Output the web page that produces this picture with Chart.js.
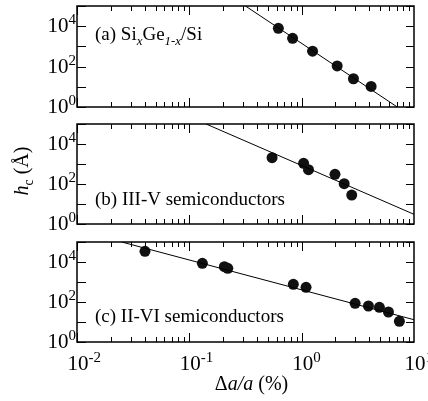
<!DOCTYPE html>
<html>
<head>
<meta charset="utf-8">
<script src="https://cdn.jsdelivr.net/npm/chart.js@4.4.1/dist/chart.umd.min.js"></script>
<style>
body { margin: 0; background: #fff; }
#wrap { position: relative; width: 428px; height: 401px; }
.panel { position: absolute; left: 0; width: 428px; }
</style>
</head>
<body>
<div id="wrap">
  <div class="panel" style="top:0;height:115px"><canvas id="chartA"></canvas></div>
  <div class="panel" style="top:115px;height:115px"><canvas id="chartB"></canvas></div>
  <div class="panel" style="top:230px;height:171px"><canvas id="chartC"></canvas></div>
</div>
<script>
// axis ticks (decades) and which ones carry a label
const xTicks = [0.01, 0.1, 1, 10];
const xTickExp = ['-2', '-1', '0', '1'];
const yTicks = [1, 10, 100, 1000, 10000, 100000];
const yLabelTicks = [1, 100, 10000];
const yLabelExp = ['0', '2', '4'];

// (a) SiGe/Si
const sigeX = [0.62, 0.83, 1.25, 2.07, 2.89, 4.15];
const sigeY = [7900, 2500, 580, 108, 25, 10.4];
const sigeFitX = [0.316, 7.1];
const sigeFitY = [100000, 1];

// (b) III-V
const iiivX = [0.545, 1.04, 1.15, 1.98, 2.39, 2.79];
const iiivY = [2070, 1080, 520, 305, 104, 28];
const iiivFitX = [0.141, 10];
const iiivFitY = [100000, 3.05];

// (c) II-VI
const iiviX = [0.0403, 0.1306, 0.205, 0.22, 0.843, 1.094, 2.99, 3.93, 4.92, 5.92, 7.41];
const iiviY = [34300, 8610, 5820, 4840, 767, 543, 86, 63, 54, 31.6, 10.8];
const iiviFitX = [0.025, 10];
const iiviFitY = [100000, 13];

const FONT = '"Liberation Serif", "Times New Roman", serif';

function font(size, italic) {
    return (italic ? 'italic ' : '') + size + 'px ' + FONT;
}

// draws a list of text pieces one after the other, returns total width
function drawRich(ctx, segs, x, y, size, measureOnly) {
    let cx = x;
    segs.forEach(function(s) {
        const sz = s.sub ? size * 0.68 : size;
        ctx.font = font(sz, s.it);
        if (!measureOnly) ctx.fillText(s.t, cx, y + (s.sub ? 5 : 0));
        cx += ctx.measureText(s.t).width;
    });
    return cx - x;
}

function drawPow(ctx, exp, x, y, align) {
    ctx.font = font(21);
    const wb = ctx.measureText('10').width;
    ctx.font = font(15);
    const we = ctx.measureText(exp).width;
    const x0 = align === 'right' ? x - wb - we : x;
    ctx.font = font(21);
    ctx.fillText('10', x0, y);
    ctx.font = font(15);
    ctx.fillText(exp, x0 + wb, y - 8);
}

const framePlugin = {
    id: 'frame',
    afterDraw(chart, args, opts) {
        const ctx = chart.ctx;
        const a = chart.chartArea;
        const xs = chart.scales.x;
        const ys = chart.scales.y;
        ctx.save();
        ctx.strokeStyle = '#000';
        ctx.fillStyle = '#000';
        ctx.lineWidth = 1;
        ctx.beginPath();
        // x ticks, top and bottom, pointing inwards
        for (let i = 0; i < xTicks.length - 1; i++) {
            for (let m = 1; m < 10; m++) {
                const px = Math.round(xs.getPixelForValue(xTicks[i] * m)) + 0.5;
                const len = m === 1 ? 9 : 5;
                ctx.moveTo(px, a.bottom); ctx.lineTo(px, a.bottom - len);
                ctx.moveTo(px, a.top); ctx.lineTo(px, a.top + len);
            }
        }
        // y ticks, left and right
        yTicks.forEach(function(v) {
            const py = Math.round(ys.getPixelForValue(v)) + 0.5;
            ctx.moveTo(a.left, py); ctx.lineTo(a.left + 9, py);
            ctx.moveTo(a.right, py); ctx.lineTo(a.right - 8, py);
        });
        ctx.stroke();

        ctx.lineWidth = 1.5;
        ctx.strokeRect(a.left, a.top, a.right - a.left, a.bottom - a.top);

        ctx.textAlign = 'left';
        ctx.textBaseline = 'alphabetic';
        yLabelTicks.forEach(function(v, i) {
            drawPow(ctx, yLabelExp[i], a.left - 1, ys.getPixelForValue(v) + 6, 'right');
        });

        if (opts.xLabels) {
            xTicks.forEach(function(v, i) {
                drawPow(ctx, xTickExp[i], xs.getPixelForValue(v) - 9.5, a.bottom + 28);
            });
            const title = [{ t: '\u0394' }, { t: 'a/a', it: true }, { t: ' (%)' }];
            const w = drawRich(ctx, title, 0, 0, 20, true);
            drawRich(ctx, title, (a.left + a.right) / 2 + 6 - w / 2, a.bottom + 48, 20);
        }

        if (opts.yTitle) {
            const t = [{ t: 'h', it: true }, { t: 'c', sub: true }, { t: ' (\u00C5)' }];
            const w = drawRich(ctx, t, 0, 0, 20, true);
            ctx.translate(28, a.bottom - 53);
            ctx.rotate(-Math.PI / 2);
            drawRich(ctx, t, -w / 2, 0, 20);
        }
        ctx.restore();

        ctx.save();
        ctx.fillStyle = '#000';
        const ly = opts.labelFromTop ? a.top + opts.labelY : a.bottom - opts.labelY;
        drawRich(ctx, opts.label, a.left + 18, ly, 19);
        ctx.restore();
    }
};

function makePanel(id, xs, ys, fitX, fitY, pad, frameOpts) {
    const pts = xs.map(function(x, i) { return { x: x, y: ys[i] }; });
    const fit = fitX.map(function(x, i) { return { x: x, y: fitY[i] }; });
    return new Chart(document.getElementById(id), {
        type: 'scatter',
        data: {
            datasets: [{
                data: fit,
                showLine: true,
                borderColor: '#000',
                borderWidth: 1,
                pointRadius: 0
            }, {
                data: pts,
                pointRadius: 5.5,
                pointBackgroundColor: '#111',
                pointBorderWidth: 0
            }]
        },
        options: {
            responsive: true,
            maintainAspectRatio: false,
            animation: false,
            layout: { padding: pad },
            plugins: {
                legend: { display: false },
                tooltip: { enabled: false },
                frame: frameOpts
            },
            scales: {
                x: { type: 'logarithmic', min: 0.01, max: 10, display: false },
                y: { type: 'logarithmic', min: 1, max: 100000, display: false }
            }
        },
        plugins: [framePlugin]
    });
}

makePanel('chartA', sigeX, sigeY, sigeFitX, sigeFitY,
    { left: 77, right: 14, top: 6, bottom: 8 },
    { label: [{ t: '(a) Si' }, { t: 'x', sub: true, it: true }, { t: 'Ge' }, { t: '1-x', sub: true, it: true }, { t: '/Si' }],
      labelFromTop: true, labelY: 33.5 });

makePanel('chartB', iiivX, iiivY, iiivFitX, iiivFitY,
    { left: 77, right: 14, top: 9, bottom: 6 },
    { label: [{ t: '(b) III-V semiconductors' }], labelY: 19.5, yTitle: true });

makePanel('chartC', iiviX, iiviY, iiviFitX, iiviFitY,
    { left: 77, right: 14, top: 12, bottom: 59 },
    { label: [{ t: '(c) II-VI semiconductors' }], labelY: 20.5, xLabels: true });
</script>
</body>
</html>
